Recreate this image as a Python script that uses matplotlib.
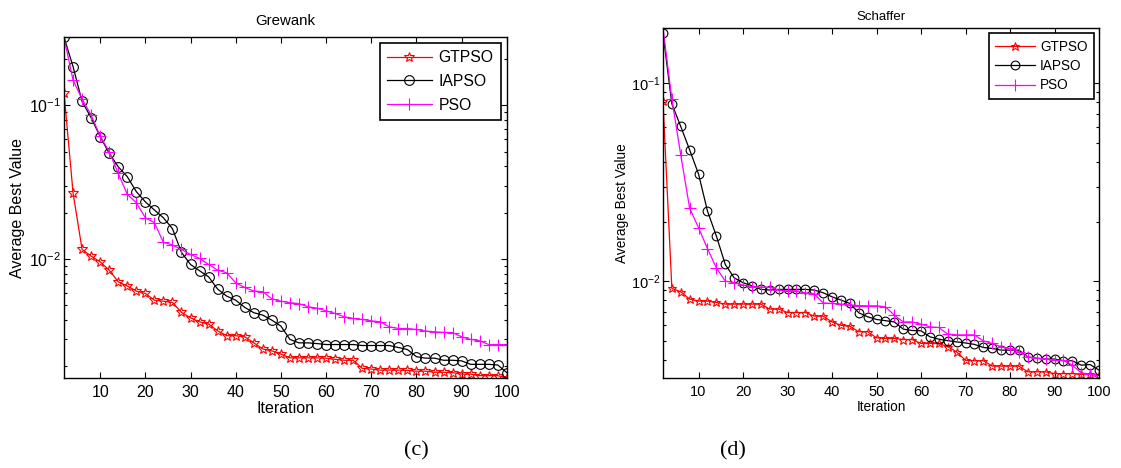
import numpy as np
import matplotlib
matplotlib.use("Agg")
import matplotlib.pyplot as plt
from matplotlib.ticker import LogLocator, NullFormatter

plt.rcParams['font.family'] = ['Liberation Sans', 'DejaVu Sans']

# iterations (markers every 2 iterations)
iters = list(range(2, 101, 2))

# Grewank
grew_gtpso = [0.121, 0.0269, 0.0115, 0.0104, 0.00955, 0.00843, 0.00708, 0.00664, 0.00616, 0.00594,
              0.00537, 0.00529, 0.00519, 0.00447, 0.00412, 0.00388, 0.00375, 0.00339, 0.00315, 0.00315,
              0.00310, 0.00283, 0.00258, 0.00251, 0.00239, 0.00226, 0.00226, 0.00226, 0.00226, 0.00225,
              0.00221, 0.00218, 0.00218, 0.00193, 0.00191, 0.00188, 0.00188, 0.00188, 0.00187, 0.00185,
              0.00185, 0.00182, 0.00182, 0.00181, 0.00177, 0.00177, 0.00173, 0.00173, 0.00173, 0.00167]
grew_iapso = [0.278, 0.179, 0.106, 0.0831, 0.0626, 0.0487, 0.0398, 0.0343, 0.0274, 0.0235,
              0.0208, 0.0185, 0.0157, 0.0110, 0.00918, 0.00835, 0.00763, 0.00634, 0.00571, 0.00537,
              0.00482, 0.00445, 0.00429, 0.00398, 0.00364, 0.00298, 0.00283, 0.00283, 0.00280, 0.00276,
              0.00276, 0.00276, 0.00276, 0.00272, 0.00272, 0.00272, 0.00272, 0.00264, 0.00256, 0.00230,
              0.00225, 0.00225, 0.00218, 0.00218, 0.00216, 0.00205, 0.00205, 0.00205, 0.00203, 0.00181]
grew_pso = [0.278, 0.146, 0.110, 0.0865, 0.0631, 0.0499, 0.0360, 0.0263, 0.0232, 0.0185,
            0.0172, 0.0128, 0.0123, 0.0115, 0.01067, 0.01005, 0.00918, 0.00843, 0.00810, 0.00697,
            0.00650, 0.00616, 0.00610, 0.00548, 0.00529, 0.00517, 0.00510, 0.00487, 0.00476, 0.00458,
            0.00440, 0.00419, 0.00408, 0.00402, 0.00394, 0.00388, 0.00360, 0.00351, 0.00351, 0.00346,
            0.00338, 0.00334, 0.00331, 0.00330, 0.00310, 0.00298, 0.00292, 0.00276, 0.00276, 0.00276]

# Schaffer
sch_gtpso = [0.0814, 0.00918, 0.00883, 0.00811, 0.00792, 0.00792, 0.00780, 0.00765, 0.00765, 0.00765,
             0.00765, 0.00765, 0.00722, 0.00722, 0.00694, 0.00694, 0.00694, 0.00665, 0.00665, 0.00622,
             0.00598, 0.00591, 0.00555, 0.00555, 0.00517, 0.00513, 0.00513, 0.00507, 0.00507, 0.00484,
             0.00484, 0.00484, 0.00466, 0.00439, 0.00398, 0.00396, 0.00396, 0.00372, 0.00372, 0.00372,
             0.00372, 0.00348, 0.00348, 0.00348, 0.00341, 0.00341, 0.00341, 0.00338, 0.00338, 0.00334]
sch_iapso = [0.179, 0.0786, 0.0604, 0.0460, 0.0347, 0.0226, 0.0169, 0.01214, 0.01039, 0.00981,
             0.00947, 0.00908, 0.00901, 0.00908, 0.00908, 0.00908, 0.00908, 0.00901, 0.00873, 0.00833,
             0.00802, 0.00771, 0.00692, 0.00660, 0.00640, 0.00631, 0.00622, 0.00572, 0.00563, 0.00561,
             0.00523, 0.00509, 0.00500, 0.00493, 0.00487, 0.00479, 0.00462, 0.00457, 0.00448, 0.00448,
             0.00448, 0.00414, 0.00407, 0.00404, 0.00404, 0.00396, 0.00396, 0.00376, 0.00379, 0.00355]
sch_pso = [0.190, 0.0830, 0.0434, 0.0233, 0.0186, 0.0146, 0.01167, 0.0100, 0.00981, 0.00955,
           0.00938, 0.00932, 0.00932, 0.00901, 0.00894, 0.00894, 0.00873, 0.00863, 0.00776, 0.00771,
           0.00765, 0.00758, 0.00752, 0.00750, 0.00750, 0.00741, 0.00673, 0.00622, 0.00622, 0.00606,
           0.00587, 0.00583, 0.00540, 0.00535, 0.00535, 0.00535, 0.00499, 0.00484, 0.00466, 0.00457,
           0.00439, 0.00414, 0.00409, 0.00404, 0.00398, 0.00398, 0.00376, 0.00344, 0.00338, 0.00324]

labels = ['GTPSO', 'IAPSO', 'PSO']
colors = ['#ff0000', '#000000', '#ff00ff']


def draw(ax, series, title, fs_tick, fs_lab, fs_title, fs_leg, ms_scale, ylim, lspace, tpad, ylx):
    styles = [dict(marker='*', ms=7 * ms_scale, mfc='none', mew=0.8),
              dict(marker='o', ms=7 * ms_scale, mfc='none', mew=0.8),
              dict(marker='+', ms=9 * ms_scale, mew=0.8)]
    for y, lab, c, st in zip(series, labels, colors, styles):
        ax.semilogy(iters, y, color=c, lw=0.9, label=lab, mec=c, **st)
    ax.set_xlim(2, 100)
    ax.set_ylim(*ylim)
    ax.set_xticks(range(10, 101, 10))
    ax.yaxis.set_major_locator(LogLocator(base=10))
    ax.yaxis.set_minor_locator(LogLocator(base=10, subs=np.arange(2, 10)))
    ax.yaxis.set_minor_formatter(NullFormatter())
    ax.tick_params(which='both', direction='in', top=True, right=True, labelsize=fs_tick, width=0.8)
    ax.tick_params(which='major', length=4)
    ax.tick_params(which='minor', length=2.5)
    ax.tick_params(axis='x', which='major', pad=5)
    ax.tick_params(axis='y', which='major', pad=2)
    for s in ax.spines.values():
        s.set_linewidth(1.0)
    ax.set_title(title, fontsize=fs_title, pad=tpad)
    ax.set_xlabel('Iteration', fontsize=fs_lab, labelpad=1)
    ax.set_ylabel('Average Best Value', fontsize=fs_lab)
    ax.yaxis.set_label_coords(ylx, 0.5)
    leg = ax.legend(loc='upper right', fontsize=fs_leg, fancybox=False, edgecolor='black',
                    framealpha=1, handlelength=2.9, handletextpad=0.4, borderaxespad=0.4,
                    labelspacing=lspace, borderpad=0.45)
    leg.get_frame().set_linewidth(1.2)


fig = plt.figure(figsize=(11.21, 4.68), dpi=100)
ax1 = fig.add_axes([0.0571, 0.1923, 0.395, 0.7286])
ax2 = fig.add_axes([0.5914, 0.1923, 0.389, 0.748])

draw(ax1, [grew_gtpso, grew_iapso, grew_pso], 'Grewank', 11.5, 11.5, 10.8, 11.3, 1.0,
     (0.00167, 0.279), 0.55, 9, -0.088)
draw(ax2, [sch_gtpso, sch_iapso, sch_pso], 'Schaffer', 10.5, 9.8, 9.5, 9.8, 0.9,
     (0.00324, 0.190), 0.4, 6, -0.078)

fig.text(0.371, 0.036, '(c)', fontsize=16, family=['Liberation Serif', 'DejaVu Serif'],
         ha='center', va='center')
fig.text(0.654, 0.036, '(d)', fontsize=16, family=['Liberation Serif', 'DejaVu Serif'],
         ha='center', va='center')

fig.savefig('out.png', dpi=100)
